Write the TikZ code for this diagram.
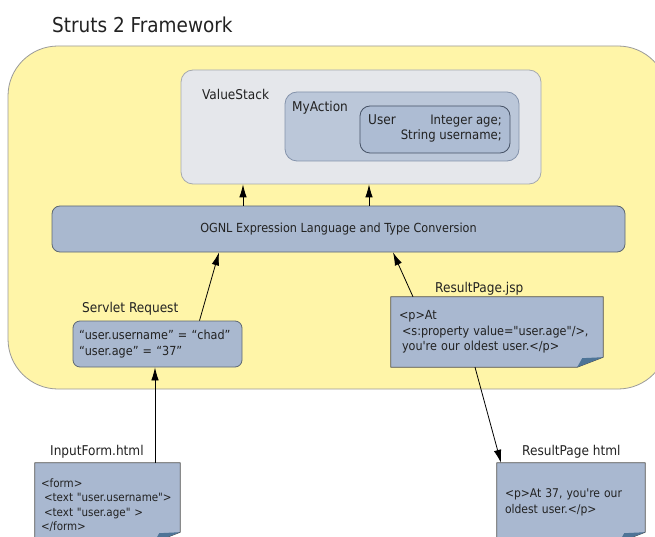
\documentclass[tikz,border=0pt]{standalone}
\usepackage{fontspec}
\setmainfont{DejaVu Sans Condensed}[Ligatures=TeXOff]
\usetikzlibrary{arrows.meta}

\pgfdeclarelayer{background}
\pgfdeclarelayer{paper}
\pgfsetlayers{background,paper,main}

\definecolor{frameyellow}{HTML}{FFF5A8}
\definecolor{frameline}{HTML}{9A9A9A}
\definecolor{stackfill}{HTML}{E5E7EB}
\definecolor{stackline}{HTML}{A5A9AE}
\definecolor{actionfill}{HTML}{BBC7D9}
\definecolor{actionline}{HTML}{8493AB}
\definecolor{userfill}{HTML}{ADBCD3}
\definecolor{userline}{HTML}{465266}
\definecolor{boxfill}{HTML}{A9B8CF}
\definecolor{boxline}{HTML}{5E6872}
\definecolor{notefill}{HTML}{A9B8D0}
\definecolor{noteline}{HTML}{505050}
\definecolor{foldfill}{HTML}{4E7497}
\definecolor{inktext}{HTML}{222222}

% sheet of paper with a turned-down corner behind a note node
\newcommand{\notepaper}[1]{%
    \begin{pgfonlayer}{paper}
        \draw[fill=notefill, draw=noteline, line width=0.8pt, line join=round]
            (#1.north west) -- (#1.north east) -- ([yshift=10pt]#1.south east)
            -- ([xshift=-26pt]#1.south east) -- (#1.south west) -- cycle;
        \fill[foldfill] ([yshift=10pt]#1.south east) -- ([xshift=-26pt]#1.south east)
            -- ([xshift=-21pt, yshift=9pt]#1.south east) -- cycle;
    \end{pgfonlayer}}

\begin{document}
\begin{tikzpicture}[x=1pt, y=-1pt, >={Latex[length=13pt, width=7.5pt]}]
    \tikzset{
        block/.style={draw=boxline, fill=boxfill, line width=0.8pt, rounded corners=8pt, inner sep=0pt},
        note/.style={inner sep=0pt, align=left, text=inktext, font=\fontsize{12}{15.5}\selectfont},
        caption/.style={anchor=base west, inner sep=0pt, text=inktext, font=\fontsize{13.5}{16}\selectfont},
        arrow/.style={->, line width=0.8pt, black}
    }
    \useasboundingbox (0, 0) rectangle (655, 537);

    \node[caption, font=\fontsize{20.5}{24}\selectfont] (title) at (52, 33) {Struts 2 Framework};

    \begin{pgfonlayer}{background}
        \node[draw=frameline, fill=frameyellow, line width=0.8pt, rounded corners=50pt,
              minimum width=660pt, minimum height=343pt] (frame) at (338, 217.5) {};
    \end{pgfonlayer}

    % value stack with the action and its user
    \node[block, draw=stackline, fill=stackfill, rounded corners=12pt, minimum width=360pt, minimum height=114pt] (stack) at (361, 127) {};
    \node[caption] (stacklabel) at (202, 100) {ValueStack};
    \node[block, draw=actionline, fill=actionfill, rounded corners=12pt, minimum width=234pt, minimum height=69pt] (action) at (402, 126.5) {};
    \node[caption] (actionlabel) at (292, 112) {MyAction};
    \node[block, draw=userline, fill=userfill, rounded corners=10pt, minimum width=150pt, minimum height=47pt] (user) at (435, 129.5) {};
    \node[caption] (userlabel) at (368, 125) {User};
    \node[note, align=right, anchor=base east, font=\fontsize{13}{14.5}\selectfont] (userfields) at (502, 139.5) {Integer age;\\String username;};

    \node[block, minimum width=573pt, minimum height=46pt, text=inktext, font=\fontsize{12.5}{15}\selectfont] (ognl) at (338.5, 229) {OGNL Expression Language and Type Conversion};

    % request side
    \node[caption] (servletlabel) at (82, 312) {Servlet Request};
    \node[block, rounded corners=7pt, minimum width=169pt, minimum height=46pt, text width=157pt, align=left,
          text=inktext, font=\fontsize{12.5}{16}\selectfont] (servlet) at (157.5, 344) {“user.username” = “chad”\\“user.age” = “37”};

    \node[caption] (formlabel) at (50, 455) {InputForm.html};
    \node[note, minimum width=145pt, minimum height=79pt, text width=133pt, font=\fontsize{11.5}{14.5}\selectfont] (form) at (107.5, 502.5)
        {\rule{0pt}{14pt}<form>\\\hspace*{3pt}<text "user.username">\\\hspace*{3pt}<text "user.age" >\\</form>};
    \notepaper{form}

    % result side
    \node[caption] (jsplabel) at (435, 292) {ResultPage.jsp};
    \node[note, minimum width=212pt, minimum height=70pt, text width=196pt, font=\fontsize{12.5}{15.5}\selectfont] (jsp) at (497, 332)
        {<p>At\\\hspace*{3pt}<s:property value="user.age"/>,\\\hspace*{3pt}you're our oldest user.</p>};
    \notepaper{jsp}

    \node[caption] (htmllabel) at (522, 455) {ResultPage html};
    \node[note, minimum width=148pt, minimum height=79pt, text width=132pt] (html) at (571, 502.5)
        {<p>At 37, you're our\\oldest user.</p>};
    \notepaper{html}

    \draw[arrow] ([xshift=-118pt]stack.south |- ognl.north) -- ([xshift=-118pt]stack.south);
    \draw[arrow] ([xshift=8pt]stack.south |- ognl.north) -- ([xshift=8pt]stack.south);
    \draw[arrow] ([xshift=42pt]servlet.north) -- ([xshift=-119.5pt]ognl.south);
    \draw[arrow] ([xshift=-84pt]jsp.north) -- ([xshift=54.5pt]ognl.south);
    \draw[arrow] ([xshift=47.5pt]form.north) -- ([xshift=-2.5pt]servlet.south);
    \draw[arrow] ([xshift=-22pt]jsp.south) -- ([xshift=-70pt]html.north);
\end{tikzpicture}
\end{document}
